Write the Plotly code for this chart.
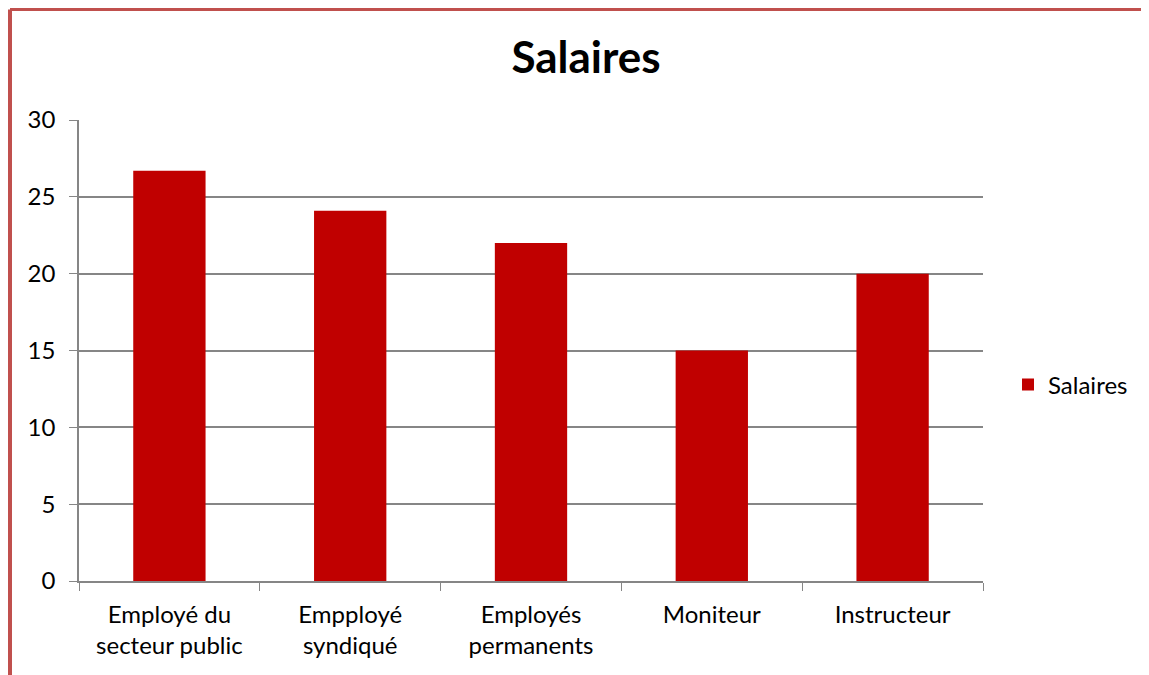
import plotly.graph_objects as go

categories = ["Employé du<br>secteur public", "Empployé<br>syndiqué", "Employés<br>permanents", "Moniteur", "Instructeur"]
values = [26.7, 24.1, 22, 15, 20]
series_name = "Salaires"
y_ticks = [0, 5, 10, 15, 20, 25, 30]

FONT = "Lato, 'Open Sans', sans-serif"
O = 8  # page body offset
W, H = 1149 - O, 675 - O
L, T = 79 - O, 120 - O
R = W - (983 - O)
B = H - (581 - O)
pw, ph = W - L - R, H - T - B

def px_x(x):
    return (x - O - L) / pw

def px_y(y):
    return ((581 - O) - (y - O)) / ph

fig = go.Figure()
fig.add_trace(go.Bar(x=categories, y=values, name=series_name,
                     marker=dict(color="#C00000", line=dict(width=0)),
                     width=0.4, showlegend=True))

fig.update_layout(
    width=W, height=H,
    margin=dict(l=L, r=R, t=T, b=B),
    paper_bgcolor="white", plot_bgcolor="white",
    font=dict(family=FONT, size=24, color="#000000"),
    title=dict(text="<b>Salaires</b>", x=(586 - O) / W, xanchor="center",
               y=1 - (58 - O) / H, yanchor="middle", xref="container", yref="container",
               font=dict(size=44, family=FONT, color="#000000")),
    showlegend=True,
    legend=dict(x=px_x(1008), y=px_y(385), xanchor="left", yanchor="middle",
                font=dict(size=24, family=FONT), bgcolor="rgba(0,0,0,0)"),
    bargap=0.6,
)
fig.update_xaxes(type="category", showline=True, linecolor="#868686", linewidth=1.5,
                 ticks="outside", tickson="boundaries", ticklen=8, tickcolor="#868686",
                 showgrid=False, tickfont=dict(size=24, family=FONT), ticklabelstandoff=11)
fig.update_yaxes(range=[0, 30], tickvals=y_ticks, showline=True, linecolor="#868686",
                 linewidth=1.5, ticks="outside", ticklen=8, tickcolor="#868686",
                 showgrid=True, gridcolor="#868686", gridwidth=1.5, zeroline=False,
                 tickfont=dict(size=24, family=FONT), ticklabelstandoff=9)

# outer red border (left and top edges)
fig.add_shape(type="line", xref="paper", yref="paper",
              x0=px_x(10), x1=px_x(10), y0=px_y(700), y1=px_y(9.5),
              line=dict(color="#C0504D", width=4))
fig.add_shape(type="line", xref="paper", yref="paper",
              x0=px_x(10), x1=px_x(1160), y0=px_y(9.5), y1=px_y(9.5),
              line=dict(color="#C0504D", width=3))

fig.write_html("out.html")
